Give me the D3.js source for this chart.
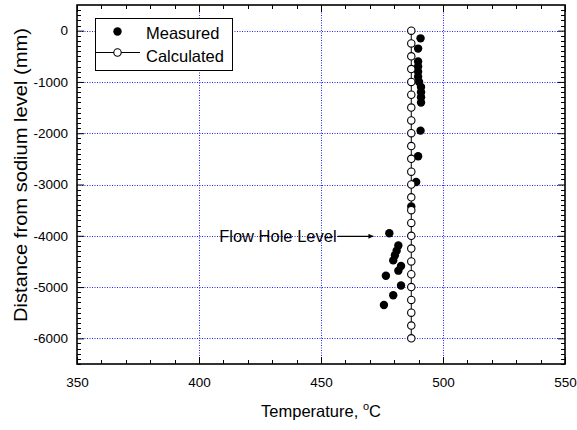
<!doctype html>
<html>
  <head>
    <meta charset="utf-8">
    <script src="https://cdnjs.cloudflare.com/ajax/libs/d3/7.8.5/d3.min.js"></script>
    <style>
      body { margin: 0; background: #fff; }
      text { font-family: "Liberation Sans", Arial, sans-serif; fill: #000; }
    </style>
  </head>
  <body>
    <svg style="height: 430px; width: 577px;"></svg>
    <script>
        // measured points (depth in mm, temperature in C)
        var measuredDepth = [-150, -350, -600, -700, -800, -900, -1000, -1100, -1200, -1300, -1400,
                             -1950, -2450, -2950, -3430, -3950, -4190, -4290, -4380, -4480,
                             -4590, -4680, -4780, -4970, -5160, -5350];
        var measuredTemp  = [490.8, 489.8, 489.8, 489.8, 489.8, 489.8, 490.2, 491, 491, 491, 491,
                             490.8, 489.8, 489, 487, 478, 481.7, 481, 480.3, 479.6,
                             482.8, 481.7, 476.6, 482.8, 479.6, 475.8];

        // calculated profile
        var calcDepth = [0, -250, -500, -750, -1000, -1250, -1500, -1750, -2000, -2250, -2500, -2750,
                         -3000, -3250, -3500, -3750, -4000, -4250, -4500, -4750, -5000, -5250,
                         -5500, -5750, -6000];
        var calcTemp  = [487, 487, 487, 487, 487, 487, 487, 487, 487, 487, 487, 487,
                         487, 487, 487, 487, 487, 487, 487, 487, 487, 487, 487, 487, 487];

        var xTicks = [350, 400, 450, 500, 550];
        var yTicks = [0, -1000, -2000, -3000, -4000, -5000, -6000];

        // annotation: text end / arrow start and arrow tip
        var flowLabel = "Flow Hole Level";
        var flowArrow = [[456.8, -4010], [471.5, -4010]];

        var svg = d3.select("svg");
        var plotL = 77, plotR = 565, plotT = 5, plotB = 364;

        var xScale = d3.scaleLinear().domain([350, 550]).range([plotL, plotR]);
        var yScale = d3.scaleLinear().domain([-6500, 500]).range([plotB, plotT]);

        // grid
        var grid = svg.append("g")
            .style("stroke", "#2020ff")
            .style("stroke-width", "1px")
            .style("stroke-dasharray", "1,1.5");
        grid.selectAll(".gx").data(xTicks.slice(1, -1)).enter().append("line")
            .attr("x1", d => Math.round(xScale(d)) + 0.5).attr("x2", d => Math.round(xScale(d)) + 0.5)
            .attr("y1", plotT).attr("y2", plotB);
        grid.selectAll(".gy").data(yTicks).enter().append("line")
            .attr("y1", d => Math.round(yScale(d)) + 0.5).attr("y2", d => Math.round(yScale(d)) + 0.5)
            .attr("x1", plotL).attr("x2", plotR);

        // minor ticks on all four sides
        var xMinor = d3.range(360, 550, 10).filter(v => xTicks.indexOf(v) < 0);
        var yMinor = d3.range(-6500, 500, 100).filter(v => yTicks.indexOf(v) < 0);

        var minorG = svg.append("g").style("stroke", "#000").style("stroke-width", "1px");
        xMinor.forEach(function (v) {
            var x = Math.round(xScale(v)) + 0.5;
            minorG.append("line").attr("x1", x).attr("x2", x).attr("y1", plotB).attr("y2", plotB - 4);
            minorG.append("line").attr("x1", x).attr("x2", x).attr("y1", plotT).attr("y2", plotT + 4);
        });
        yMinor.forEach(function (v) {
            var y = Math.round(yScale(v)) + 0.5;
            minorG.append("line").attr("y1", y).attr("y2", y).attr("x1", plotL).attr("x2", plotL + 4);
            minorG.append("line").attr("y1", y).attr("y2", y).attr("x1", plotR).attr("x2", plotR - 4);
        });

        // major axes
        var fmt = d => String(d);
        var xAxis = d3.axisBottom(xScale).tickValues(xTicks).tickFormat(fmt).tickSizeInner(-7).tickSizeOuter(0).tickPadding(13);
        var xAxisTop = d3.axisTop(xScale).tickValues(xTicks).tickSizeInner(-7).tickSizeOuter(0).tickFormat("");
        var yAxis = d3.axisLeft(yScale).tickValues(yTicks).tickFormat(fmt).tickSizeInner(-7).tickSizeOuter(0).tickPadding(9);
        var yAxisRight = d3.axisRight(yScale).tickValues(yTicks).tickSizeInner(-7).tickSizeOuter(0).tickFormat("");

        function styleAxis(g) {
            g.select(".domain").remove();
            g.selectAll("line").style("stroke", "#000").style("stroke-width", "1px");
            g.selectAll("text").style("font-size", "13.5px").style("font-family", "'Liberation Sans', Arial, sans-serif");
        }
        svg.append("g").attr("transform", "translate(0," + plotB + ")").call(xAxis).call(styleAxis);
        svg.append("g").attr("transform", "translate(0," + plotT + ")").call(xAxisTop).call(styleAxis);
        svg.append("g").attr("transform", "translate(" + plotL + ",0)").call(yAxis).call(styleAxis);
        svg.append("g").attr("transform", "translate(" + plotR + ",0)").call(yAxisRight).call(styleAxis);

        // frame
        svg.append("rect")
            .attr("x", plotL).attr("y", plotT)
            .attr("width", plotR - plotL).attr("height", plotB - plotT)
            .style("fill", "none").style("stroke", "#000").style("stroke-width", "1.6px");

        // axis titles
        var xt = svg.append("text")
            .attr("x", (plotL + plotR) / 2).attr("y", 417)
            .attr("text-anchor", "middle")
            .style("font-size", "16.5px");
        xt.append("tspan").text("Temperature, ");
        xt.append("tspan").attr("dy", -7).style("font-size", "11px").text("o");
        xt.append("tspan").attr("dy", 7).text("C");

        svg.append("text")
            .attr("transform", "translate(27,175) rotate(-90)")
            .attr("text-anchor", "middle")
            .attr("textLength", 294).attr("lengthAdjust", "spacingAndGlyphs")
            .style("font-size", "18px")
            .text("Distance from sodium level (mm)");

        // calculated profile
        var calcData = calcDepth.map((d, i) => ({ depth: d, temp: calcTemp[i] }));
        var line = d3.line().x(d => xScale(d.temp)).y(d => yScale(d.depth));
        svg.append("path")
            .attr("d", line(calcData))
            .style("fill", "none").style("stroke", "#000").style("stroke-width", "1px");

        // measured
        var measData = measuredDepth.map((d, i) => ({ depth: d, temp: measuredTemp[i] }));
        svg.append("g").selectAll("circle").data(measData).enter().append("circle")
            .attr("cx", d => xScale(d.temp)).attr("cy", d => yScale(d.depth))
            .attr("r", 4.2).style("fill", "#000");

        svg.append("g").selectAll("circle").data(calcData).enter().append("circle")
            .attr("cx", d => xScale(d.temp)).attr("cy", d => yScale(d.depth))
            .attr("r", 3.7).style("fill", "#fff").style("stroke", "#000").style("stroke-width", "1.1px");

        // annotation
        svg.append("defs").append("marker")
            .attr("id", "arrow").attr("viewBox", "0 0 10 10")
            .attr("refX", 10).attr("refY", 5)
            .attr("markerWidth", 7).attr("markerHeight", 5)
            .attr("markerUnits", "userSpaceOnUse")
            .attr("orient", "auto")
            .append("path").attr("d", "M0,0 L10,5 L0,10 Z").style("fill", "#000");
        svg.append("line")
            .attr("x1", xScale(flowArrow[0][0])).attr("y1", yScale(flowArrow[0][1]))
            .attr("x2", xScale(flowArrow[1][0])).attr("y2", yScale(flowArrow[1][1]))
            .style("stroke", "#000").style("stroke-width", "1.2px")
            .attr("marker-end", "url(#arrow)");
        svg.append("text")
            .attr("x", xScale(flowArrow[0][0]) - 1).attr("y", yScale(flowArrow[0][1]) + 5.5)
            .attr("text-anchor", "end")
            .style("font-size", "16.5px")
            .text(flowLabel);

        // legend
        var lg = svg.append("g");
        lg.append("rect")
            .attr("x", 95.5).attr("y", 18.5).attr("width", 137).attr("height", 52)
            .style("fill", "#fff").style("stroke", "#000").style("stroke-width", "1px");
        lg.append("circle").attr("cx", 117.5).attr("cy", 31.5).attr("r", 4.2).style("fill", "#000");
        lg.append("text").attr("x", 146).attr("y", 39).style("font-size", "16.5px").text("Measured");
        lg.append("line").attr("x1", 95).attr("x2", 140).attr("y1", 52.5).attr("y2", 52.5)
            .style("stroke", "#000").style("stroke-width", "1.2px");
        lg.append("circle").attr("cx", 117.5).attr("cy", 52.5).attr("r", 3.7)
            .style("fill", "#fff").style("stroke", "#000").style("stroke-width", "1.1px");
        lg.append("text").attr("x", 146).attr("y", 61.5).style("font-size", "16.5px").text("Calculated");
    </script>
  </body>
</html>
